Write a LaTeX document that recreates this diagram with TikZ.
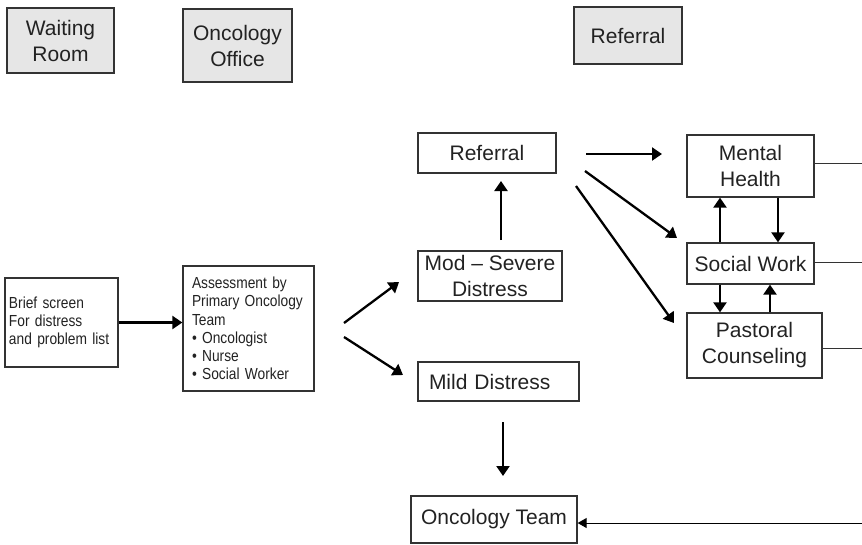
\documentclass[tikz,border=0pt]{standalone}
\usepackage{fontspec}
\setmainfont{Liberation Sans}
\newfontfamily\narrowfont[FakeStretch=0.86]{Liberation Sans}
\usetikzlibrary{arrows.meta,calc}
\definecolor{ink}{HTML}{222222}
\definecolor{edge}{HTML}{333333}
\definecolor{hdrfill}{HTML}{E6E6E6}
\tikzset{
  box/.style={draw=edge,line width=1.3pt,text=ink,inner sep=0pt,align=center,
    font=\fontsize{21}{26}\selectfont},
  header/.style={box,fill=hdrfill},
  smallbox/.style={box,align=left,inner xsep=0pt,
    font=\narrowfont\fontsize{16}{18.3}\selectfont},
  arr/.style={draw=black,line width=2.3pt,-{Triangle[length=10pt,width=13pt]}},
  thin/.style={draw=edge,line width=1pt},
  thinarr/.style={draw=black,line width=1pt,-{Triangle[length=9pt,width=10pt]}}
}
\begin{document}
\begin{tikzpicture}[x=1pt,y=-1pt]
\useasboundingbox (0,0) rectangle (862,544);

% column headers
\node[header,minimum width=107pt,minimum height=65pt] (wait) at (60.5,40.5) {Waiting\\Room};
\node[header,minimum width=109pt,minimum height=73pt] (office) at (237.5,45.5) {Oncology\\Office};
\node[header,minimum width=108pt,minimum height=57pt] (refhdr) at (628,35.5) {Referral};

% screening and assessment
\node[smallbox,minimum width=113pt,minimum height=89pt,text width=105pt] (brief) at (61.5,322.5)
  {Brief screen\\For distress\\and~problem~list};
\node[smallbox,minimum width=131pt,minimum height=125pt,text width=113pt] (assess) at (248.5,328.5)
  {Assessment~by\\Primary~Oncology\\Team\\•~Oncologist\\•~Nurse\\•~Social~Worker};

% distress levels
\node[box,minimum width=138pt,minimum height=40pt] (ref) at (487,153) {Referral};
\node[box,minimum width=144pt,minimum height=50pt] (mod) at (490,276) {Mod – Severe\\Distress};
\node[box,minimum width=161pt,minimum height=39pt,align=left,text width=139pt] (mild) at (498.5,381.5) {Mild Distress};
\node[box,minimum width=166pt,minimum height=47pt] (team) at (494,519.5) {Oncology Team};

% referral services
\node[box,minimum width=127pt,minimum height=62pt] (mh) at (750.5,166) {Mental\\Health};
\node[box,minimum width=127pt,minimum height=41pt] (sw) at (750.5,263.5) {Social Work};
\node[box,minimum width=135pt,minimum height=65pt] (pc) at (754.5,345.5) {Pastoral\\Counseling};

% free ends of the floating arrows
\coordinate (forkA) at (344,323);
\coordinate (forkB) at (344,337);
\coordinate (modTip) at (399,282);
\coordinate (mildTip) at (403,375);
\coordinate (upStart) at (501,240);
\coordinate (upTip) at (501,181);
\coordinate (r1s) at (586,154);
\coordinate (r1e) at (662,154);
\coordinate (r2s) at (585,171);
\coordinate (r2e) at (677,238);
\coordinate (r3s) at (576,186);
\coordinate (r3e) at (674,323);
\coordinate (dnStart) at (503,422);
\coordinate (dnTip) at (503,476);
\coordinate (mhOut) at (862,163);
\coordinate (swOut) at (862,262);
\coordinate (pcOut) at (862,348);
\coordinate (back) at (862,523);

% connectors
\draw[arr] (brief.east) -- (brief.east -| assess.west);
\draw[arr] (forkA) -- (modTip);
\draw[arr] (forkB) -- (mildTip);
\draw[arr] (upStart) -- (upTip);
\draw[arr] (r1s) -- (r1e);
\draw[arr] (r2s) -- (r2e);
\draw[arr] (r3s) -- (r3e);
\draw[arr] (dnStart) -- (dnTip);

\draw[arr] ([xshift=-30.5pt]sw.north) -- ([xshift=-30.5pt]mh.south);
\draw[arr] ([xshift=27.5pt]mh.south) -- ([xshift=27.5pt]sw.north);
\draw[arr] ([xshift=-30.5pt]sw.south) -- ([xshift=-30.5pt]sw.south |- pc.north);
\draw[arr] ([xshift=19.5pt]sw.south |- pc.north) -- ([xshift=19.5pt]sw.south);

\draw[thin] (mh.east |- mhOut) -- (mhOut);
\draw[thin] (sw.east |- swOut) -- (swOut);
\draw[thin] (pc.east |- pcOut) -- (pcOut);
\draw[thinarr] (back) -- (team.east |- back);
\end{tikzpicture}
\end{document}
